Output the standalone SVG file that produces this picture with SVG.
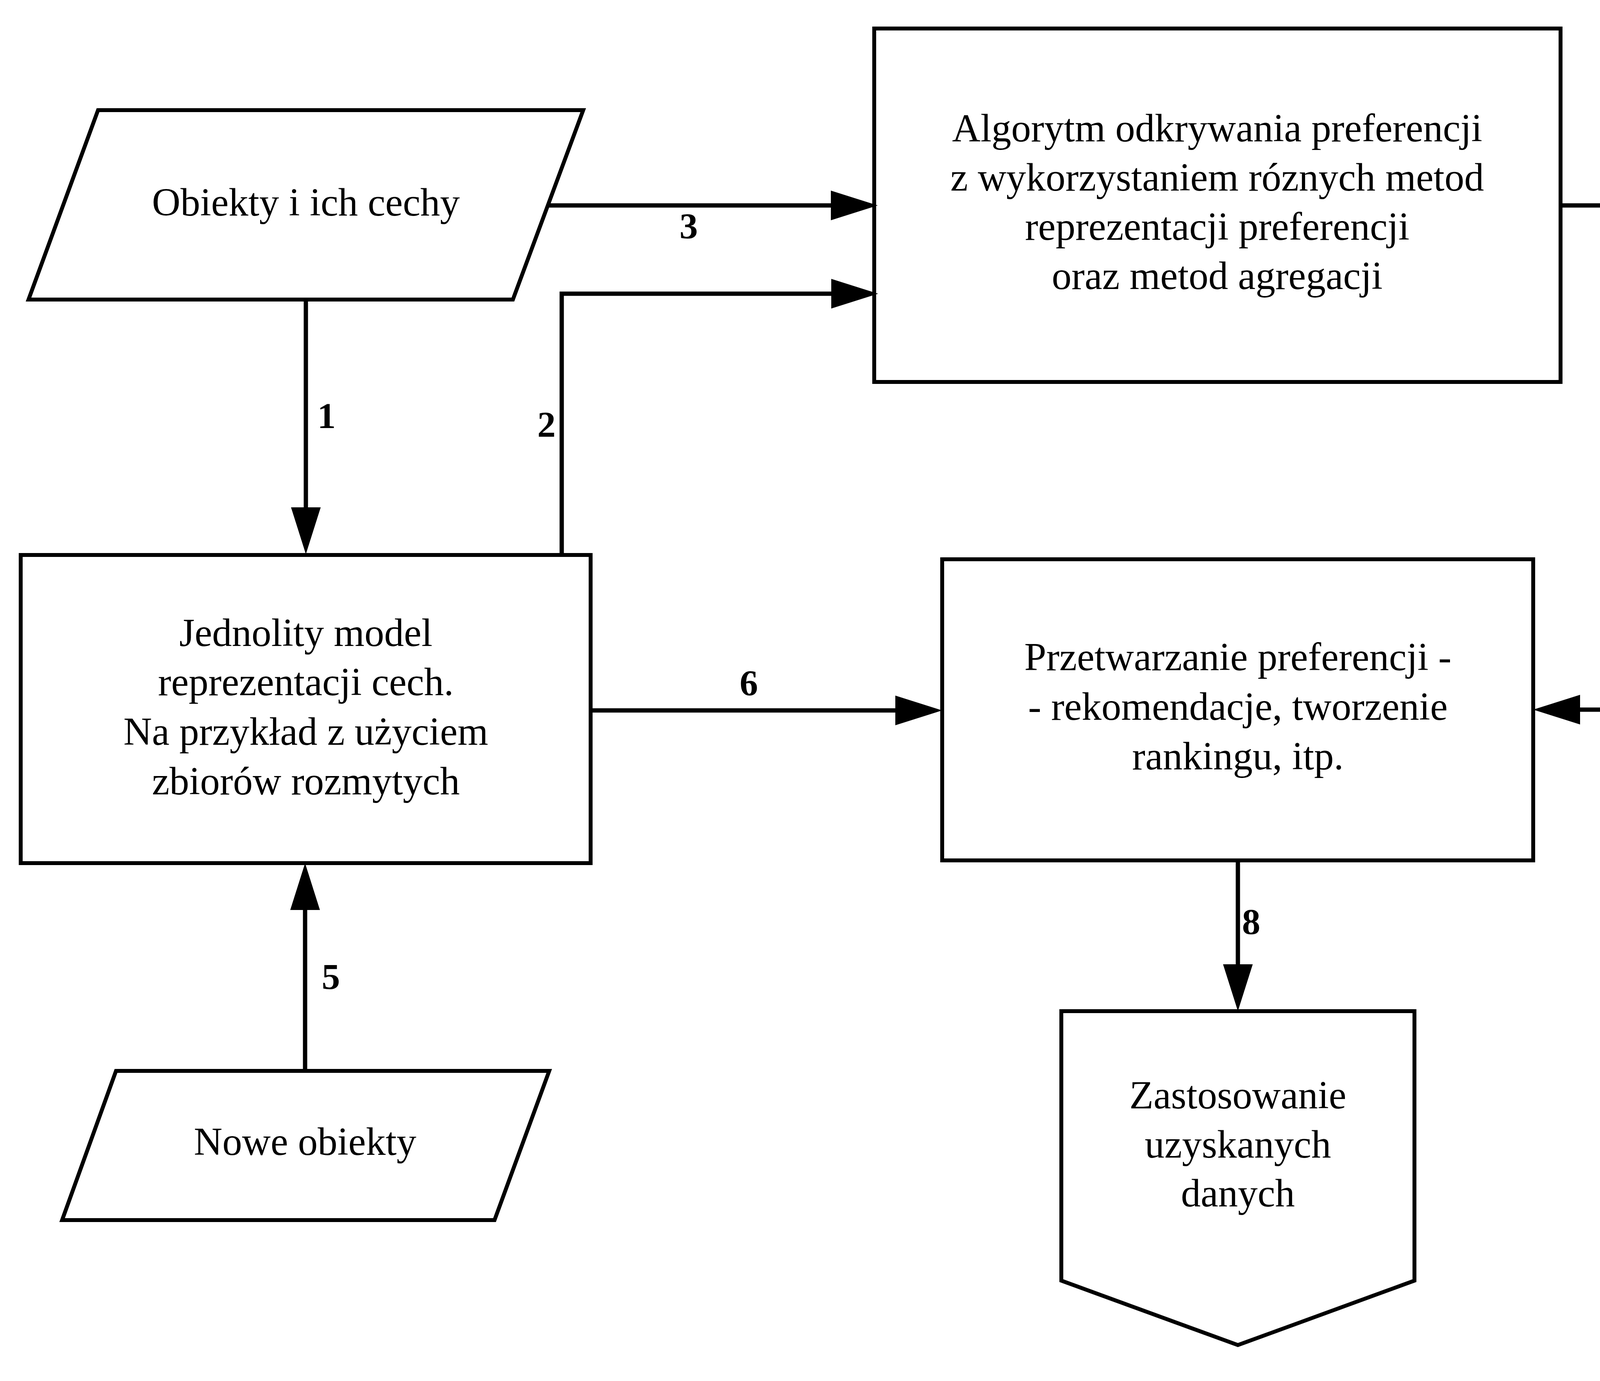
<svg xmlns="http://www.w3.org/2000/svg" width="6133" height="3536" viewBox="0 0 6133 3536">
<style>
.shape{fill:#ffffff;stroke:#000000;stroke-width:10;stroke-linejoin:miter}
.conn{fill:none;stroke:#000000;stroke-width:11;stroke-linejoin:miter}
.t{font-family:"Liberation Serif","Times New Roman",serif;font-size:101px;fill:#000000;text-anchor:middle}
.lbl{font-family:"Liberation Serif","Times New Roman",serif;font-size:94px;font-weight:bold;fill:#000000;text-anchor:middle}
</style>
<defs>
<marker id="arr" markerUnits="userSpaceOnUse" viewBox="0 -40 122 80" markerWidth="122" markerHeight="80" refX="0" refY="0" orient="auto">
<path d="M0,-38 L120,0 L0,38 Z" fill="#000000"/>
</marker>
</defs>
<rect width="6133" height="3536" fill="#ffffff"/>
<g id="n-obiekty">
<polygon class="shape" points="251,282 1493,282 1313,767 73,767"/>
<text class="t" x="783" y="552">Obiekty i ich cechy</text>
</g>
<g id="n-algorytm">
<rect class="shape" x="2238" y="73" width="1757" height="905"/>
<text class="t" x="3116" y="362">Algorytm odkrywania preferencji</text>
<text class="t" x="3116" y="488">z wykorzystaniem róznych metod</text>
<text class="t" x="3116" y="614">reprezentacji preferencji</text>
<text class="t" x="3116" y="740">oraz metod agregacji</text>
</g>
<g id="n-model">
<path class="shape" d="M4569,812 L4783,317 L5851,317 A676,676 0 0 1 5851,1312 L4783,1312 Z"/>
<text class="t" x="5318" y="720">Model reprezentacji</text>
<text class="t" x="5318" y="845">preferencji względem</text>
<text class="t" x="5318" y="970">cech obiektów</text>
</g>
<g id="n-jednolity">
<rect class="shape" x="53" y="1421" width="1459" height="789"/>
<text class="t" x="783" y="1654">Jednolity model</text>
<text class="t" x="783" y="1780">reprezentacji cech.</text>
<text class="t" x="783" y="1907">Na przykład z użyciem</text>
<text class="t" x="783" y="2034">zbiorów rozmytych</text>
</g>
<g id="n-przetwarzanie">
<rect class="shape" x="2412" y="1432" width="1513" height="771"/>
<text class="t" x="3169" y="1716">Przetwarzanie preferencji -</text>
<text class="t" x="3169" y="1843">- rekomendacje, tworzenie</text>
<text class="t" x="3169" y="1970">rankingu, itp.</text>
</g>
<g id="n-nowe">
<polygon class="shape" points="297,2742 1406,2742 1266,3124 159,3124"/>
<text class="t" x="781" y="2957">Nowe obiekty</text>
</g>
<g id="n-zastosowanie">
<polygon class="shape" points="2717,2589 3621,2589 3621,3279 3169,3444 2717,3279"/>
<text class="t" x="3169" y="2838">Zastosowanie</text>
<text class="t" x="3169" y="2964">uzyskanych</text>
<text class="t" x="3169" y="3089">danych</text>
</g>
<g id="connectors">
<path class="conn" d="M783,767 L783,1299" marker-end="url(#arr)"/>
<path class="conn" d="M1438,1421 L1438,752 L2128,752" marker-end="url(#arr)"/>
<path class="conn" d="M1406,526 L2127,526" marker-end="url(#arr)"/>
<path class="conn" d="M3995,526 L4284,526 L4284,813 L4450,813" marker-end="url(#arr)"/>
<path class="conn" d="M781,2742 L781,2330" marker-end="url(#arr)"/>
<path class="conn" d="M1512,1819 L2292,1819" marker-end="url(#arr)"/>
<path class="conn" d="M5586,1312 L5586,1817 L4045,1817" marker-end="url(#arr)"/>
<path class="conn" d="M3169,2203 L3169,2469" marker-end="url(#arr)"/>
<text class="lbl" x="836" y="1096">1</text>
<text class="lbl" x="1399" y="1118">2</text>
<text class="lbl" x="1763" y="610">3</text>
<text class="lbl" x="4348" y="701">4</text>
<text class="lbl" x="847" y="2532">5</text>
<text class="lbl" x="1917" y="1780">6</text>
<text class="lbl" x="4810" y="1785">7</text>
<text class="lbl" x="3203" y="2391">8</text>
</g>
</svg>
